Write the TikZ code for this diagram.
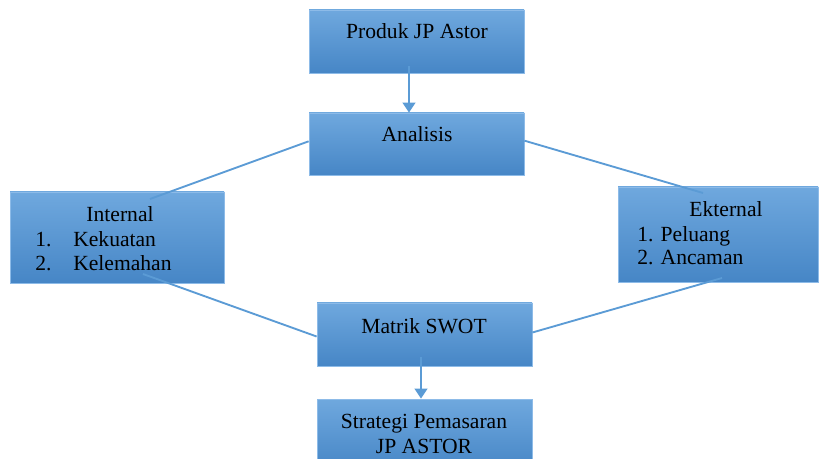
\documentclass[tikz,border=0pt]{standalone}
\usepackage{fontspec}
\setmainfont{Liberation Serif}
\usetikzlibrary{fit,arrows.meta}
\definecolor{boxtop}{HTML}{6FA8DE}
\definecolor{boxbot}{HTML}{4686C6}
\definecolor{boxline}{HTML}{8DBBE8}
\definecolor{conn}{HTML}{5B9BD5}
\tikzset{
  box/.style={draw=boxline, line width=0.6pt, top color=boxtop, bottom color=boxbot, inner sep=0pt, rectangle},
  txt/.style={font=\fontsize{16.2}{19}\selectfont, inner sep=0pt, text=black},
  link/.style={draw=conn, line width=1.4pt},
  arr/.style={draw=conn, line width=1.6pt, -{Triangle[width=9.5pt,length=7.5pt]}},
}
\begin{document}
\begin{tikzpicture}[x=0.75pt,y=-0.75pt]
\useasboundingbox (0,0) rectangle (820,459);
\clip (0,0) rectangle (820,459);
% connector end points inside the side boxes
\coordinate (iA) at (150,199);
\coordinate (iB) at (143,274);
\coordinate (eA) at (703,193);
\coordinate (eB) at (722,278);
\node[box, fit={(309,10) (524,73)}] (prod) {};
\node[box, fit={(309,113) (524,175)}] (anal) {};
\node[box, fit={(10,192) (224,283)}] (intl) {};
\node[box, fit={(618,187) (818,282)}] (extl) {};
\node[box, fit={(317,303) (532,366)}] (swot) {};
\node[box, fit={(317,399) (532,470)}] (strat) {};
% lines
\draw[link] ([yshift=2pt]anal.west) -- (iA);
\draw[link] (iB) -- ([yshift=-1.5pt]swot.west);
\draw[link] ([yshift=2.5pt]anal.east) -- (eA);
\draw[link] (eB) -- ([yshift=1.5pt]swot.east);
\draw[arr] (prod.south) ++(-7.5,-7) coordinate (pa) (pa) -- (pa |- anal.north);
\draw[arr] (swot.south) ++(-3.5,-9) coordinate (sa) (sa) -- (sa |- strat.north);
% texts
\node[txt, anchor=base] (tprod) at (417,39) {Produk JP Astor};
\node[txt, anchor=base] (tanal) at (417,142) {Analisis};
\node[txt, anchor=base] (tswot) at (424,333) {Matrik SWOT};
\node[txt, anchor=base] (tstr1) at (424,428) {Strategi Pemasaran};
\node[txt, anchor=base] (tstr2) at (424,453) {JP ASTOR};
\node[txt, anchor=base] (tint) at (120,222) {Internal};
\node[txt, anchor=base west] (ti1n) at (35,246.7) {1.};
\node[txt, anchor=base west] (ti1) at (73,246.7) {Kekuatan};
\node[txt, anchor=base west] (ti2n) at (35,270.7) {2.};
\node[txt, anchor=base west] (ti2) at (73,270.7) {Kelemahan};
\node[txt, anchor=base] (text) at (726,216.7) {Ekternal};
\node[txt, anchor=base west] (te1) at (637,241.7) {1. Peluang};
\node[txt, anchor=base west] (te2) at (637,265) {2. Ancaman};
\end{tikzpicture}
\end{document}
